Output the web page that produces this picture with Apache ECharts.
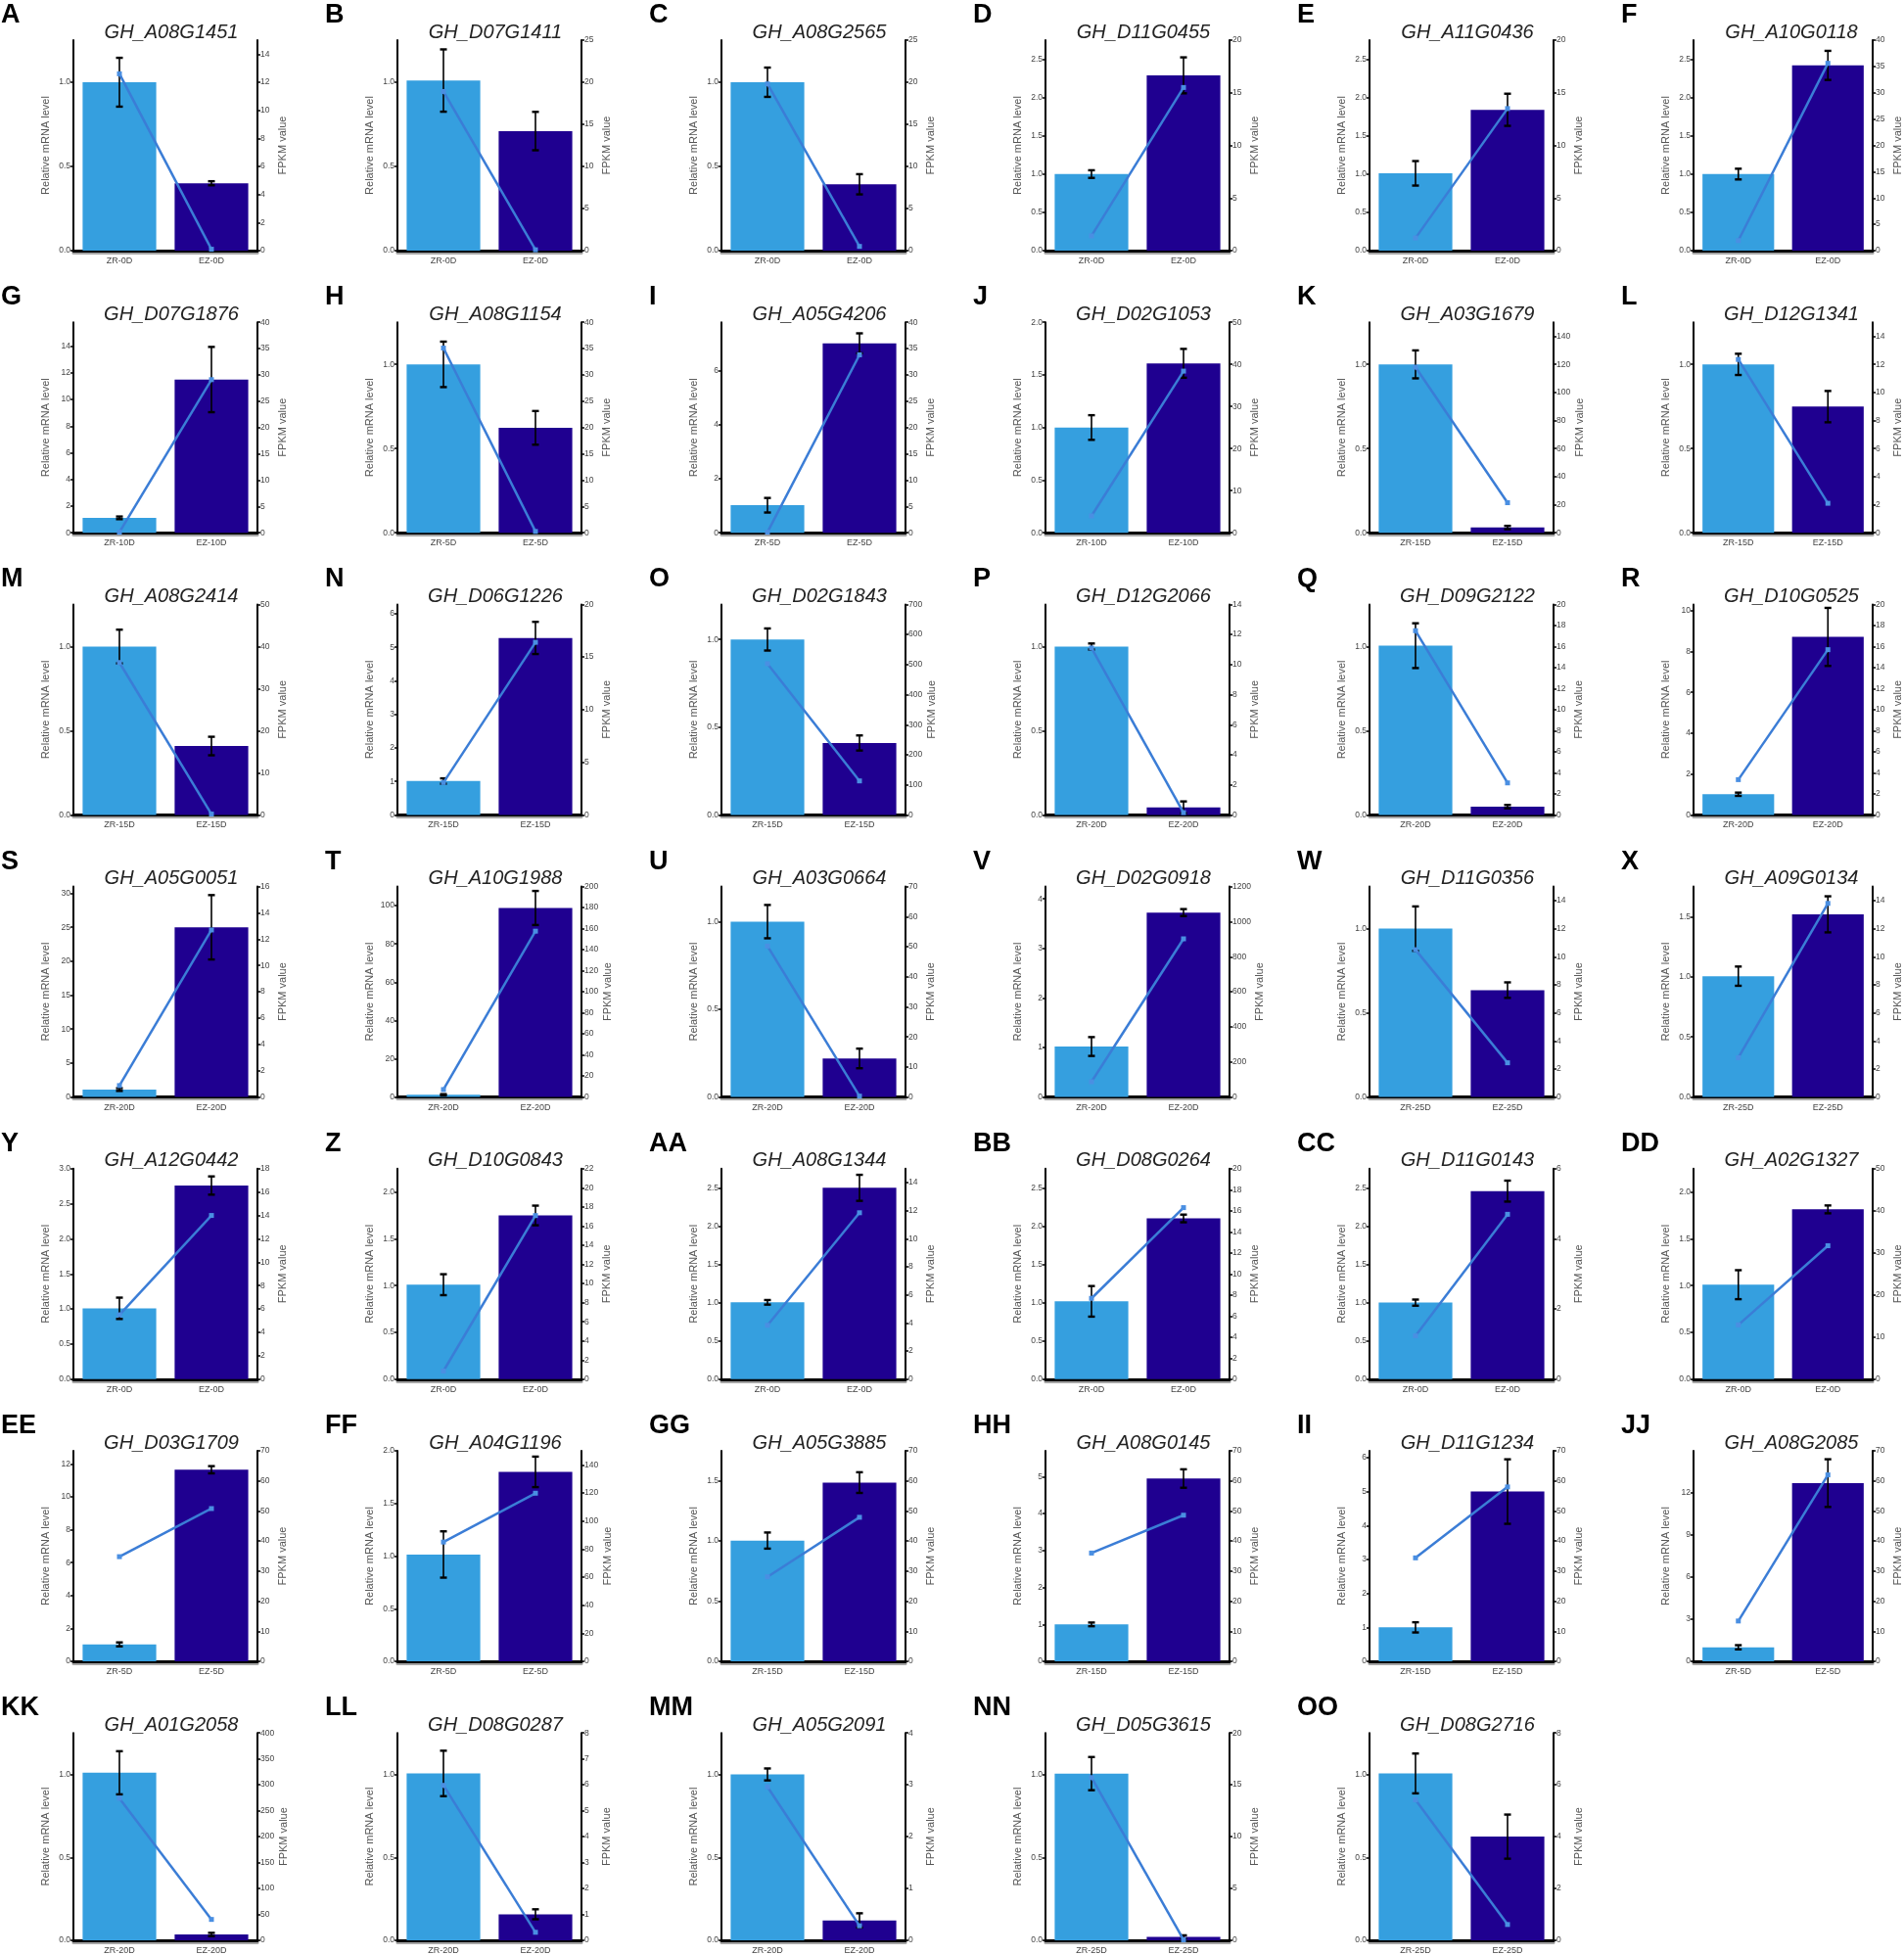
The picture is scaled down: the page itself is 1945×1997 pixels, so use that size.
<!DOCTYPE html>
<html><head><meta charset="utf-8">
<script src="https://cdn.jsdelivr.net/npm/echarts@6/dist/echarts.min.js"></script>
<style>html,body{margin:0;padding:0;background:#fff}#c{width:1945px;height:1997px}</style>
</head><body><div id="c"></div>
<script>
const panelLetters = ['A','B','C','D','E','F','G','H','I','J','K','L','M','N','O','P','Q','R','S','T','U','V','W','X','Y','Z','AA','BB','CC','DD','EE','FF','GG','HH','II','JJ','KK','LL','MM','NN','OO'];
const geneNames = ['GH_A08G1451','GH_D07G1411','GH_A08G2565','GH_D11G0455','GH_A11G0436','GH_A10G0118',
 'GH_D07G1876','GH_A08G1154','GH_A05G4206','GH_D02G1053','GH_A03G1679','GH_D12G1341',
 'GH_A08G2414','GH_D06G1226','GH_D02G1843','GH_D12G2066','GH_D09G2122','GH_D10G0525',
 'GH_A05G0051','GH_A10G1988','GH_A03G0664','GH_D02G0918','GH_D11G0356','GH_A09G0134',
 'GH_A12G0442','GH_D10G0843','GH_A08G1344','GH_D08G0264','GH_D11G0143','GH_A02G1327',
 'GH_D03G1709','GH_A04G1196','GH_A05G3885','GH_A08G0145','GH_D11G1234','GH_A08G2085',
 'GH_A01G2058','GH_D08G0287','GH_A05G2091','GH_D05G3615','GH_D08G2716'];
const timePoints = ['0D','0D','0D','0D','0D','0D','10D','5D','5D','10D','15D','15D','15D','15D','15D','20D','20D','20D',
 '20D','20D','20D','20D','25D','25D','0D','0D','0D','0D','0D','0D','5D','5D','15D','15D','15D','5D','20D','20D','20D','25D','25D'];
// Relative mRNA level (bars, left axis)
const zrLevel = [1.0,1.01,1.0,1.0,1.01,1.0, 1.12,1.0,1.02,1.0,1.0,1.0, 1.0,1.01,1.0,1.0,1.005,1.01,
 1.1,1.2,1.0,1.02,1.0,1.005, 1.01,1.01,1.004,1.017,1.0,1.01, 1.03,1.015,1.004,1.0,1.0,1.0, 1.01,1.006,1.0,1.005,1.006];
const ezLevel = [0.40,0.71,0.394,2.29,1.84,2.42, 11.5,0.623,7.02,1.61,0.031,0.749, 0.409,5.28,0.41,0.045,0.049,8.71,
 25.0,98.8,0.22,3.725,0.635,1.519, 2.76,1.75,2.5,2.10,2.457,1.815, 11.65,1.80,1.486,4.95,5.0,12.7, 0.035,0.157,0.12,0.02,0.625];
const zrError = [0.145,0.185,0.087,0.05,0.16,0.07, 0.1,0.135,0.27,0.117,0.083,0.063, 0.1,0.08,0.063,0.018,0.133,0.08,
 0.2,0.3,0.095,0.19,0.132,0.08, 0.152,0.112,0.03,0.2,0.04,0.155, 0.12,0.22,0.067,0.05,0.15,0.15, 0.13,0.137,0.036,0.1,0.12];
const ezError = [0.012,0.114,0.06,0.235,0.21,0.19, 2.45,0.1,0.37,0.137,0.01,0.093, 0.055,0.48,0.043,0.035,0.01,1.42,
 4.74,8.9,0.056,0.07,0.046,0.15, 0.13,0.105,0.17,0.05,0.137,0.042, 0.22,0.145,0.086,0.25,0.95,1.7, 0.01,0.03,0.043,0.01,0.133];
// FPKM value (line, right axis)
const fpkmZR = [12.6,18.9,19.8,1.4,1.2,1.9, 0.1,35.1,0.1,4.0,118,12.35, 36.2,3.07,503,11.1,17.5,3.35,
 0.87,7.1,50.2,87,10.5,2.8, 5.5,0.85,3.84,7.68,1.235,12.9, 34.8,85,28.1,36,34.4,13.4, 274,5.98,2.96,15.7,5.42];
const fpkmEZ = [0.1,0.1,0.5,15.5,13.5,35.6, 29.1,0.25,33.8,38.4,21.4,2.1, 0.2,16.4,113,0.15,3.04,15.7,
 12.7,157.6,0.3,902,2.44,13.8, 14.0,17.1,11.86,16.3,4.7,31.7, 50.8,119.8,47.9,48.6,58,62, 40.3,0.31,0.28,0.05,0.61];
// axis extents and tick labels
const leftMax = [1.25,1.25,1.25,2.75,2.75,2.75, 15.8,1.25,7.8,2.0,1.25,1.25, 1.25,6.28,1.2,1.25,1.25,10.3,
 31,110,1.2,4.25,1.25,1.75, 3.0,2.25,2.75,2.75,2.75,2.25, 12.8,2.0,1.75,5.7,6.2,15, 1.25,1.25,1.25,1.25,1.25];
const T05 = [0,0.5,1.0], T25 = [0,0.5,1.0,1.5,2.0,2.5], T20 = [0,0.5,1.0,1.5,2.0], T15 = [0,0.5,1.0,1.5];
const leftTicks = [T05,T05,T05,T25,T25,T25, [0,2,4,6,8,10,12,14],T05,[0,2,4,6],T20,T05,T05,
 T05,[0,1,2,3,4,5,6],T05,T05,T05,[0,2,4,6,8,10],
 [0,5,10,15,20,25,30],[0,20,40,60,80,100],T05,[0,1,2,3,4],T05,T15,
 [0,0.5,1.0,1.5,2.0,2.5,3.0],T20,T25,T25,T25,T20,
 [0,2,4,6,8,10,12],T20,T15,[0,1,2,3,4,5],[0,1,2,3,4,5,6],[0,3,6,9,12],
 T05,T05,T05,T05,T05];
const rightMax = [15,25,25,20,20,40, 40,40,40,50,150,15, 50,20,700,14,20,20,
 16,200,70,1200,15,15, 18,22,15,20,6,50, 70,150,70,70,70,70, 400,8,4,20,8];
const R14 = [0,2,4,6,8,10,12,14], R25 = [0,5,10,15,20,25], R20 = [0,5,10,15,20], R40 = [0,5,10,15,20,25,30,35,40];
const R50 = [0,10,20,30,40,50], R70 = [0,10,20,30,40,50,60,70], R20b = [0,2,4,6,8,10,12,14,16,18,20];
const rightTicks = [R14,R25,R25,R20,R20,R40, R40,R40,R40,R50,[0,20,40,60,80,100,120,140],R14,
 R50,R20,[0,100,200,300,400,500,600,700],R14,R20b,R20b,
 [0,2,4,6,8,10,12,14,16],[0,20,40,60,80,100,120,140,160,180,200],R70,[0,200,400,600,800,1000,1200],R14,R14,
 [0,2,4,6,8,10,12,14,16,18],[0,2,4,6,8,10,12,14,16,18,20,22],R14,R20b,[0,2,4,6],R50,
 R70,[0,20,40,60,80,100,120,140],R70,R70,R70,R70,
 [0,50,100,150,200,250,300,350,400],[0,1,2,3,4,5,6,7,8],[0,1,2,3,4],R20,[0,2,4,6,8]];

const ZR_COLOR = '#359fdf', EZ_COLOR = '#1f0090', LINE_COLOR = '#3b7dd6', MARK_COLOR = '#4a8fe2';
const FONT = 'Liberation Sans, Arial, sans-serif';
const COLW = 331, ROWH = 288.2;

const chart = echarts.init(document.getElementById('c'), null, {renderer: 'canvas'});
const grids = [], xAxes = [], yAxes = [], series = [], titles = [];

function errRender(params, api) {
  const x = api.value(0), lo = api.value(1), hi = api.value(2);
  const a = api.coord([x, lo]), b = api.coord([x, hi]);
  const hw = 3.5;
  const st = {stroke: '#000', lineWidth: 1.6};
  const cap = {stroke: '#000', lineWidth: 2.4};
  return {type: 'group', children: [
    {type: 'line', shape: {x1: a[0], y1: a[1], x2: b[0], y2: b[1]}, style: st},
    {type: 'line', shape: {x1: a[0] - hw, y1: a[1], x2: a[0] + hw, y2: a[1]}, style: cap},
    {type: 'line', shape: {x1: b[0] - hw, y1: b[1], x2: b[0] + hw, y2: b[1]}, style: cap}
  ]};
}

for (let i = 0; i < geneNames.length; i++) {
  const r = Math.floor(i / 6), c = i % 6;
  const left = c * COLW + 75, top = 41 + r * ROWH;
  grids.push({left: left, top: top, width: 188, height: 215, containLabel: false});
  const cats = ['ZR-' + timePoints[i], 'EZ-' + timePoints[i]];
  xAxes.push({type: 'category', gridIndex: i, data: cats,
    axisLine: {lineStyle: {color: '#000', width: 3, shadowColor: 'rgba(0,0,0,0.35)', shadowOffsetY: 2}},
    axisTick: {show: false},
    axisLabel: {fontSize: 9, color: '#444', margin: 6, fontFamily: FONT}});
  const lt = leftTicks[i];
  const ld = lt.some(v => v % 1 !== 0) ? 1 : 0;
  yAxes.push({type: 'value', gridIndex: i, position: 'left', min: 0, max: leftMax[i],
    name: 'Relative mRNA level', nameLocation: 'middle', nameGap: 23, nameRotate: 90,
    nameTextStyle: {fontSize: 11, color: '#555', fontFamily: FONT},
    splitLine: {show: false},
    axisLine: {show: true, onZero: false, lineStyle: {color: '#000', width: 2}},
    axisTick: {show: true, length: 3, customValues: lt, lineStyle: {color: '#000', width: 1.5}},
    axisLabel: {customValues: lt, fontSize: 8.5, color: '#444', margin: 3, fontFamily: FONT,
      formatter: v => Number(v).toFixed(ld)}});
  const rt = rightTicks[i];
  yAxes.push({type: 'value', gridIndex: i, position: 'right', min: 0, max: rightMax[i],
    name: 'FPKM value', nameLocation: 'middle', nameGap: 20, nameRotate: 90,
    nameTextStyle: {fontSize: 11, color: '#555', fontFamily: FONT},
    splitLine: {show: false},
    axisLine: {show: true, onZero: false, lineStyle: {color: '#000', width: 2}},
    axisTick: {show: true, length: 3, customValues: rt, lineStyle: {color: '#000', width: 1.5}},
    axisLabel: {customValues: rt, fontSize: 8.5, color: '#444', margin: 3, fontFamily: FONT,
      formatter: v => String(v)}});
  series.push({type: 'bar', xAxisIndex: i, yAxisIndex: 2 * i, barCategoryGap: '20%',
    data: [{value: zrLevel[i], itemStyle: {color: ZR_COLOR}}, {value: ezLevel[i], itemStyle: {color: EZ_COLOR}}],
    z: 2});
  series.push({type: 'custom', xAxisIndex: i, yAxisIndex: 2 * i, renderItem: errRender,
    encode: {x: 0, y: [1, 2]},
    data: [[0, zrLevel[i] - zrError[i], zrLevel[i] + zrError[i]], [1, ezLevel[i] - ezError[i], ezLevel[i] + ezError[i]]],
    z: 3});
  series.push({type: 'line', xAxisIndex: i, yAxisIndex: 2 * i + 1, data: [fpkmZR[i], fpkmEZ[i]],
    symbol: 'rect', symbolSize: 5, lineStyle: {color: LINE_COLOR, width: 2.5},
    itemStyle: {color: MARK_COLOR}, z: 4});
  titles.push({text: geneNames[i], left: c * COLW + 175, top: top - 18, textAlign: 'center', padding: 0,
    textStyle: {fontSize: 20, fontStyle: 'italic', fontWeight: 'normal', color: '#222', fontFamily: FONT, lineHeight: 20}});
  titles.push({text: panelLetters[i], left: c * COLW + 1, top: r * ROWH + 2, padding: 0,
    textStyle: {fontSize: 27, fontWeight: 'bold', color: '#000', fontFamily: FONT, lineHeight: 27}});
}

chart.setOption({animation: false, textStyle: {fontFamily: FONT}, title: titles, grid: grids,
  xAxis: xAxes, yAxis: yAxes, series: series});
</script></body></html>
